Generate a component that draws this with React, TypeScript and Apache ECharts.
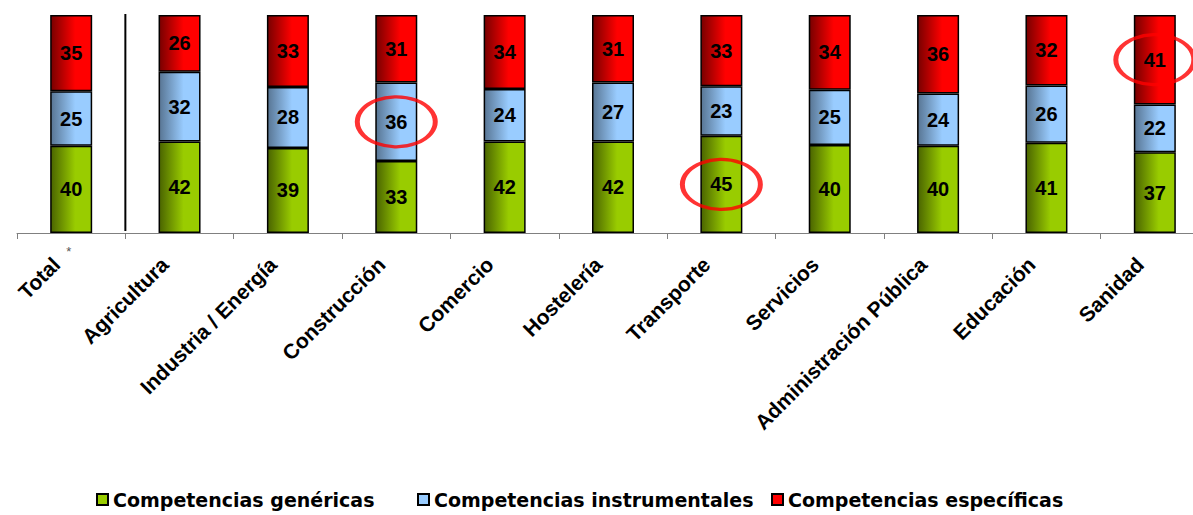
import React, { useEffect, useRef } from "react";
import * as echarts from "echarts";

const categories = [
  "Total",
  "Agricultura",
  "Industria / Energía",
  "Construcción",
  "Comercio",
  "Hostelería",
  "Transporte",
  "Servicios",
  "Administración Pública",
  "Educación",
  "Sanidad",
];
const genericas = [40, 42, 39, 33, 42, 42, 45, 40, 40, 41, 37];
const instrumentales = [25, 32, 28, 36, 24, 27, 23, 25, 24, 26, 22];
const especificas = [35, 26, 33, 31, 34, 31, 33, 34, 36, 32, 41];
const seriesNames = [
  "Competencias genéricas",
  "Competencias instrumentales",
  "Competencias específicas",
];
// highlighted segments: [category, series index]
const highlights: [string, number][] = [
  ["Construcción", 1],
  ["Transporte", 0],
  ["Sanidad", 2],
];

const grad = (dark: string, light: string) =>
  new echarts.graphic.LinearGradient(0, 0, 1, 0, [
    { offset: 0, color: dark },
    { offset: 0.6, color: light },
    { offset: 1, color: light },
  ]);

export default function App() {
  const ref = useRef<HTMLDivElement>(null);
  useEffect(() => {
    if (!ref.current) return;
    const chart = echarts.init(ref.current, undefined, { renderer: "svg" });
    const all = [genericas, instrumentales, especificas];
    // 100% stacked: normalise each category to its total
    const totals = categories.map((_, j) => all.reduce((s, a) => s + a[j], 0));
    const pct = all.map((a) => a.map((v, j) => (v / totals[j]) * 100));
    const colors = [
      grad("#4a6400", "#99cc00"),
      grad("#587593", "#99ccff"),
      grad("#780000", "#ff0000"),
    ];
    const legendColors = ["#99cc00", "#99ccff", "#ff0000"];
    const mkBar = (i: number) => ({
      name: seriesNames[i],
      type: "bar",
      stack: "s",
      barWidth: 42,
      data: pct[i],
      itemStyle: { color: colors[i], borderColor: "#000", borderWidth: 1.5 },
      label: {
        show: true,
        position: "inside",
        color: "#000",
        fontFamily: "Liberation Sans, Arial, sans-serif",
        fontWeight: "bold",
        fontSize: 20,
        formatter: (p: any) => String(all[i][p.dataIndex]),
      },
    });
    const hlData = highlights.map(([cat, s]) => {
      const idx = categories.indexOf(cat);
      let base = 0;
      for (let k = 0; k < s; k++) base += pct[k][idx];
      return [cat, base + pct[s][idx] / 2];
    });
    const legendLefts = [93, 414, 768];
    chart.setOption({
      animation: false,
      grid: { left: 17, right: 0, top: 15, bottom: 282 },
      legend: seriesNames.map((n, i) => ({
        data: [{ name: n, itemStyle: { color: legendColors[i] } }],
        left: legendLefts[i],
        top: 487,
        padding: 3,
        icon: "rect",
        itemWidth: 11,
        itemHeight: 11,
        itemGap: 4,
        selectedMode: false,
        textStyle: {
          fontFamily: "DejaVu Sans, sans-serif",
          fontWeight: "bold",
          fontSize: 19,
          color: "#000",
        },
      })),
      xAxis: {
        type: "category",
        data: categories,
        axisLine: { lineStyle: { color: "#808080", width: 1 } },
        axisTick: { show: true, length: 6, lineStyle: { color: "#808080" } },
        axisLabel: {
          rotate: 45,
          margin: 13,
          padding: [0, 21, 0, 0],
          interval: 0,
          color: "#000",
          fontFamily: "Liberation Sans, Arial, sans-serif",
          fontWeight: "bold",
          fontSize: 21,
        },
      },
      yAxis: {
        type: "value",
        min: 0,
        max: 100,
        show: false,
        splitLine: { show: false },
      },
      series: [
        mkBar(0),
        mkBar(1),
        mkBar(2),
        {
          type: "scatter",
          data: hlData,
          symbol: "circle",
          symbolSize: [78, 50],
          z: 10,
          silent: true,
          itemStyle: {
            color: "rgba(0,0,0,0)",
            borderColor: "#ff0000",
            borderWidth: 4,
          },
        },
      ],
    });
    const c0 = chart.convertToPixel({ xAxisIndex: 0 }, 0) as number;
    const c1 = chart.convertToPixel({ xAxisIndex: 0 }, 1) as number;
    const sepX = (c0 + c1) / 2;
    const yTop = chart.convertToPixel({ yAxisIndex: 0 }, 100) as number;
    const yBot = chart.convertToPixel({ yAxisIndex: 0 }, 0) as number;
    chart.setOption({
      graphic: [
        {
          type: "line",
          shape: { x1: sepX, y1: yTop - 1, x2: sepX, y2: yBot - 2 },
          style: { stroke: "#000", lineWidth: 2 },
          z: 20,
        },
        {
          type: "text",
          x: c0 - 5,
          y: yBot + 12,
          style: {
            text: "*",
            fill: "#555",
            fontSize: 13,
            fontFamily: "Liberation Sans, Arial, sans-serif",
          },
        },
      ],
    });
    return () => chart.dispose();
  }, []);
  return (
    <div
      ref={ref}
      style={{ position: "fixed", left: 0, top: 0, width: 1209, height: 515, background: "#fff" }}
    />
  );
}
